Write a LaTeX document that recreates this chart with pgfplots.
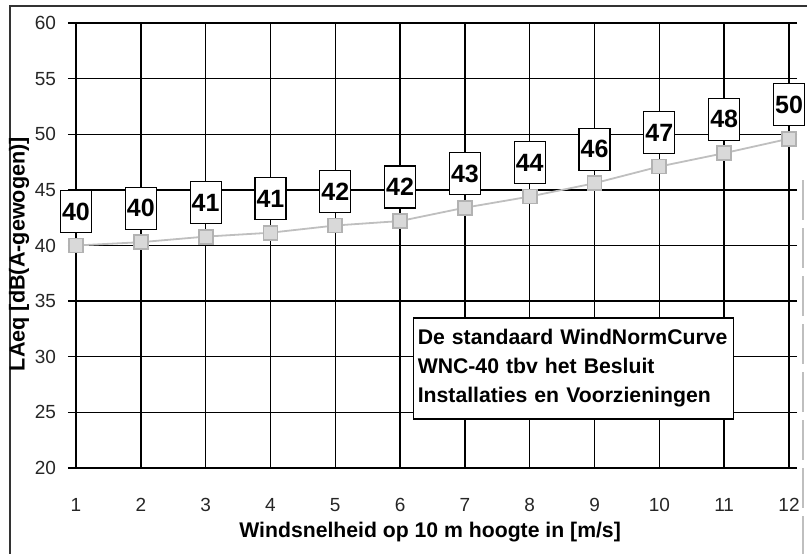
\documentclass[border=0pt]{standalone}
\usepackage{fontspec}
\setmainfont{Liberation Sans}
\usepackage{pgfplots}
\pgfplotsset{compat=1.18}
\begin{document}
\begin{tikzpicture}
\useasboundingbox (-38pt,-42.5pt) rectangle (365.5pt,234pt);
\draw[black!80, line width=0.6pt] (-33pt,-45pt) -- (-33pt,231pt) -- (368pt,231pt);
\draw[gray!50, line width=1pt, dash pattern=on 20pt off 4pt] (363.5pt,144pt) -- (363.5pt,-45pt);
\begin{axis}[
  scale only axis, width=356.5pt, height=222.5pt,
  xmin=1, xmax=12, ymin=20, ymax=60,
  xtick={1,...,12}, ytick={20,25,...,60},
  grid=major, major grid style={black, line width=0.7pt},
  axis line style={black, line width=0.7pt},
  tick align=outside, major tick length=4pt,
  tick style={black, line width=0.7pt},
  xtick style={draw=none},
  clip=false,
  /pgf/number format/assume math mode=true,
  ticklabel style={font=\fontsize{9.5pt}{11pt}\selectfont, text=black!85},
  xticklabel style={anchor=north, yshift=-7.5pt},
  yticklabel style={anchor=east, xshift=-2.5pt},
  xlabel={\bfseries Windsnelheid op 10 m hoogte in [m/s]},
  ylabel={\bfseries LAeq [dB(A-gewogen)]},
  every axis x label/.style={at={(rel axis cs:0.5,0)}, yshift=-32pt, xshift=-1.2pt, anchor=center,
    font=\fontsize{10.6pt}{12pt}\selectfont\bfseries},
  every axis y label/.style={at={(rel axis cs:0,0.5)}, xshift=-28.5pt, yshift=-4.3pt, rotate=90, anchor=center,
    font=\fontsize{10.8pt}{12pt}\selectfont\bfseries},
]
\addplot[gray!50, line width=0.9pt, mark=square*, mark size=3.5pt,
  mark options={fill=gray!30, draw=gray!60, solid},
  nodes near coords={\bfseries\pgfplotspointmeta}, point meta=explicit symbolic,
  every node near coord/.append style={anchor=center, yshift=17pt, draw=black, fill=white, text=black,
    line width=0.6pt, inner sep=0.5pt, minimum width=15.5pt, minimum height=21pt,
    font=\fontsize{12.5pt}{14pt}\selectfont\bfseries}]
  table[meta=label]{
x y label
1 40.0 40
2 40.3 40
3 40.8 41
4 41.15 41
5 41.8 42
6 42.2 42
7 43.4 43
8 44.4 44
9 45.6 46
10 47.1 47
11 48.3 48
12 49.6 50
};
\node[draw=black, fill=white, line width=0.6pt, inner sep=0pt, minimum width=160pt, minimum height=50.5pt,
  text width=156pt, align=left, font=\fontsize{10.6pt}{14.5pt}\selectfont\bfseries]
  at (axis cs:8.68,28.94) {De standaard WindNormCurve\\WNC-40 tbv het Besluit\\Installaties en Voorzieningen};
\end{axis}
\end{tikzpicture}
\end{document}
